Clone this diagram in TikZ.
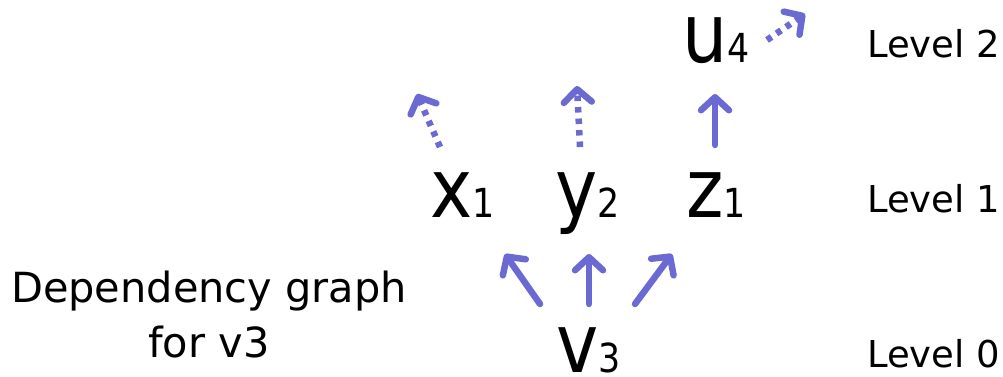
\documentclass[tikz,border=0pt]{standalone}
\usepackage{fontspec}
\setmainfont{DejaVu Sans}
\usetikzlibrary{arrows.meta}
\definecolor{arrowblue}{RGB}{106,106,210}
\tikzset{
  big/.style={anchor=base west,inner sep=0pt,font=\fontsize{82}{82}\selectfont,xscale=0.87,transform shape},
  lvl/.style={anchor=base west,inner sep=0pt,font=\fontsize{37}{37}\selectfont},
  dep/.style={arrowblue,line width=6.5pt,line cap=round,
    -{Straight Barb[length=13pt,width=28pt,line cap=round,line join=round]}},
  dotdep/.style={dep,line cap=butt,dash pattern=on 5.5pt off 6pt},
}
\newcommand{\sbs}[1]{{\fontsize{40}{40}\selectfont #1}}
\begin{document}
\begin{tikzpicture}[x=1pt,y=-1pt]
\useasboundingbox (0,0) rectangle (1003,377);
% main nodes
\node[big] (u4) at (682,63) {u\sbs{4}};
\node[big] (x1) at (430,217) {x\sbs{1}};
\node[big] (y2) at (555,217) {y\sbs{2}};
\node[big] (z1) at (686,217) {z\sbs{1}};
\node[big,text depth=0pt] (v3) at (556,372) {v\sbs{3}};
% level labels
\node[lvl] (l2) at (867,58) {Level 2};
\node[lvl] (l1) at (867,212) {Level 1};
\node[lvl] (l0) at (867,367) {Level 0};
% caption
\node[inner sep=0pt,align=center,font=\fontsize{41.5}{55}\selectfont,anchor=base] (cap) at (209,357) {Dependency graph\\for v3};
% arrow end points
\coordinate (vxa) at (540,304); \coordinate (vxb) at (505,254);
\coordinate (vya) at (589,304); \coordinate (vyb) at (589,254);
\coordinate (vza) at (635,304); \coordinate (vzb) at (672,254);
\coordinate (xa) at (440,147); \coordinate (xb) at (417,94);
\coordinate (ya) at (580,147); \coordinate (yb) at (577,86);
\coordinate (za) at (715,145); \coordinate (zb) at (715,94);
\coordinate (ua) at (767,40); \coordinate (ub) at (805,14);
\draw[dep] (vxa) -- (vxb);
\draw[dep] (vya) -- (vyb);
\draw[dep] (vza) -- (vzb);
\draw[dep] (za) -- (zb);
\draw[dotdep] (xa) -- (xb);
\draw[dotdep] (ya) -- (yb);
\draw[dotdep] (ua) -- (ub);
\end{tikzpicture}
\end{document}
